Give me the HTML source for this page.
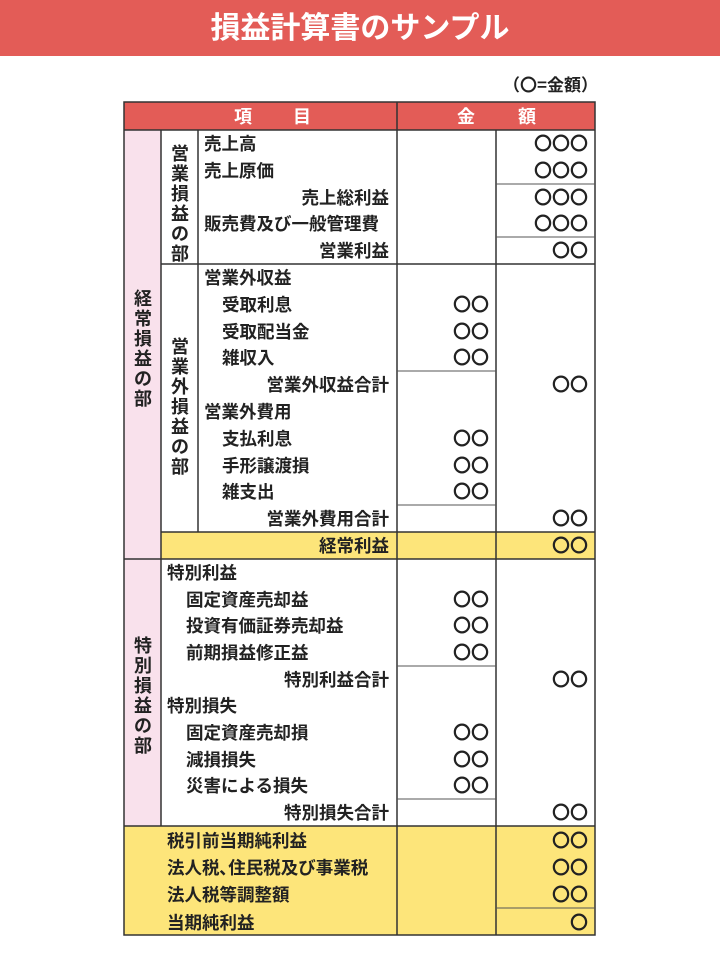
<!DOCTYPE html>
<html><head><meta charset="utf-8"><style>
html,body{margin:0;padding:0;background:#fff;}
svg{display:block;}
text{font-family:"Liberation Sans","Noto Sans CJK JP",sans-serif;font-weight:700;fill:#222;}
.j{font-family:"Noto Sans CJK JP",sans-serif;}
</style></head><body>
<svg width="720" height="962" viewBox="0 0 720 962" xmlns="http://www.w3.org/2000/svg">
<rect x="0" y="0" width="720" height="56" fill="#e35c57"/>
<text x="360" y="38" text-anchor="middle" font-size="30" font-weight="700" style="fill:#fff">損益計算書のサンプル</text>
<text class="j" x="598" y="91" text-anchor="end" font-size="17" font-weight="700">（〇=金額）</text>

<rect x="124" y="102" width="471" height="28" fill="#e35c57"/>
<rect x="124" y="130" width="37" height="429" fill="#f9e1ec"/>
<rect x="124" y="559" width="37" height="267" fill="#f9e1ec"/>
<rect x="161" y="532" width="434" height="27" fill="#fde57a"/>
<rect x="124" y="826" width="471" height="109" fill="#fde57a"/>

<g stroke="#333" stroke-width="1.5" fill="none">
<rect x="124" y="102" width="471" height="833"/>
<line x1="124" y1="130" x2="595" y2="130"/>
<line x1="397" y1="102" x2="397" y2="935"/>
<line x1="496" y1="130" x2="496" y2="935"/>
<line x1="161" y1="130" x2="161" y2="826"/>
<line x1="198" y1="130" x2="198" y2="532"/>
<line x1="161" y1="264" x2="595" y2="264"/>
<line x1="161" y1="532" x2="595" y2="532"/>
<line x1="124" y1="559" x2="595" y2="559"/>
<line x1="124" y1="826" x2="595" y2="826"/>
</g>
<g stroke="#555" stroke-width="1">
<line x1="496" y1="184" x2="595" y2="184"/>
<line x1="496" y1="237" x2="595" y2="237"/>
<line x1="397" y1="371" x2="496" y2="371"/>
<line x1="397" y1="505" x2="496" y2="505"/>
<line x1="397" y1="666" x2="496" y2="666"/>
<line x1="397" y1="799" x2="496" y2="799"/>
<line x1="496" y1="908" x2="595" y2="908"/>
</g>

<g font-size="18">
<text x="243" y="123" text-anchor="middle" style="fill:#fff">項</text>
<text x="302" y="123" text-anchor="middle" style="fill:#fff">目</text>
<text x="466" y="123" text-anchor="middle" style="fill:#fff">金</text>
<text x="527" y="123" text-anchor="middle" style="fill:#fff">額</text>
</g>

<g font-size="18" text-anchor="middle">
<text x="180" y="160">営</text><text x="180" y="180">業</text><text x="180" y="200">損</text><text x="180" y="220">益</text><text x="180" y="240">の</text><text x="180" y="260">部</text>
<text x="180" y="353">営</text><text x="180" y="373">業</text><text x="180" y="393">外</text><text x="180" y="413">損</text><text x="180" y="433">益</text><text x="180" y="453">の</text><text x="180" y="473">部</text>
<text x="143" y="305">経</text><text x="143" y="325">常</text><text x="143" y="345">損</text><text x="143" y="365">益</text><text x="143" y="385">の</text><text x="143" y="405">部</text>
<text x="143" y="652">特</text><text x="143" y="672">別</text><text x="143" y="692">損</text><text x="143" y="712">益</text><text x="143" y="732">の</text><text x="143" y="752">部</text>
</g>

<g font-size="17.5">
<text x="204" y="150">売上高</text>
<text x="204" y="177">売上原価</text>
<text x="389" y="204" text-anchor="end">売上総利益</text>
<text x="204" y="230">販売費及び一般管理費</text>
<text x="389" y="257" text-anchor="end">営業利益</text>
<text x="204" y="284">営業外収益</text>
<text x="222" y="311">受取利息</text>
<text x="222" y="338">受取配当金</text>
<text x="222" y="364">雑収入</text>
<text x="389" y="391" text-anchor="end">営業外収益合計</text>
<text x="204" y="418">営業外費用</text>
<text x="222" y="445">支払利息</text>
<text x="222" y="472">手形譲渡損</text>
<text x="222" y="498">雑支出</text>
<text x="389" y="525" text-anchor="end">営業外費用合計</text>
<text x="389" y="552" text-anchor="end">経常利益</text>
<text x="167" y="579">特別利益</text>
<text x="186" y="606">固定資産売却益</text>
<text x="186" y="632">投資有価証券売却益</text>
<text x="186" y="659">前期損益修正益</text>
<text x="389" y="686" text-anchor="end">特別利益合計</text>
<text x="167" y="712">特別損失</text>
<text x="186" y="739">固定資産売却損</text>
<text x="186" y="766">減損損失</text>
<text x="186" y="792">災害による損失</text>
<text x="389" y="819" text-anchor="end">特別損失合計</text>
<text x="167" y="847">税引前当期純利益</text>
<text x="167" y="874">法人税､住民税及び事業税</text>
<text x="167" y="901">法人税等調整額</text>
<text x="167" y="929">当期純利益</text>
</g>

<g font-size="18" text-anchor="end" font-weight="400">
<text x="588" y="150" font-weight="400">〇〇〇</text>
<text x="588" y="177" font-weight="400">〇〇〇</text>
<text x="588" y="204" font-weight="400">〇〇〇</text>
<text x="588" y="230" font-weight="400">〇〇〇</text>
<text x="588" y="257" font-weight="400">〇〇</text>
<text x="489" y="311" font-weight="400">〇〇</text>
<text x="489" y="338" font-weight="400">〇〇</text>
<text x="489" y="364" font-weight="400">〇〇</text>
<text x="588" y="391" font-weight="400">〇〇</text>
<text x="489" y="445" font-weight="400">〇〇</text>
<text x="489" y="472" font-weight="400">〇〇</text>
<text x="489" y="498" font-weight="400">〇〇</text>
<text x="588" y="525" font-weight="400">〇〇</text>
<text x="588" y="552" font-weight="400">〇〇</text>
<text x="489" y="606" font-weight="400">〇〇</text>
<text x="489" y="632" font-weight="400">〇〇</text>
<text x="489" y="659" font-weight="400">〇〇</text>
<text x="588" y="686" font-weight="400">〇〇</text>
<text x="489" y="739" font-weight="400">〇〇</text>
<text x="489" y="766" font-weight="400">〇〇</text>
<text x="489" y="792" font-weight="400">〇〇</text>
<text x="588" y="819" font-weight="400">〇〇</text>
<text x="588" y="847" font-weight="400">〇〇</text>
<text x="588" y="874" font-weight="400">〇〇</text>
<text x="588" y="901" font-weight="400">〇〇</text>
<text x="588" y="929" font-weight="400">〇</text>
</g>
</svg>
</body></html>
